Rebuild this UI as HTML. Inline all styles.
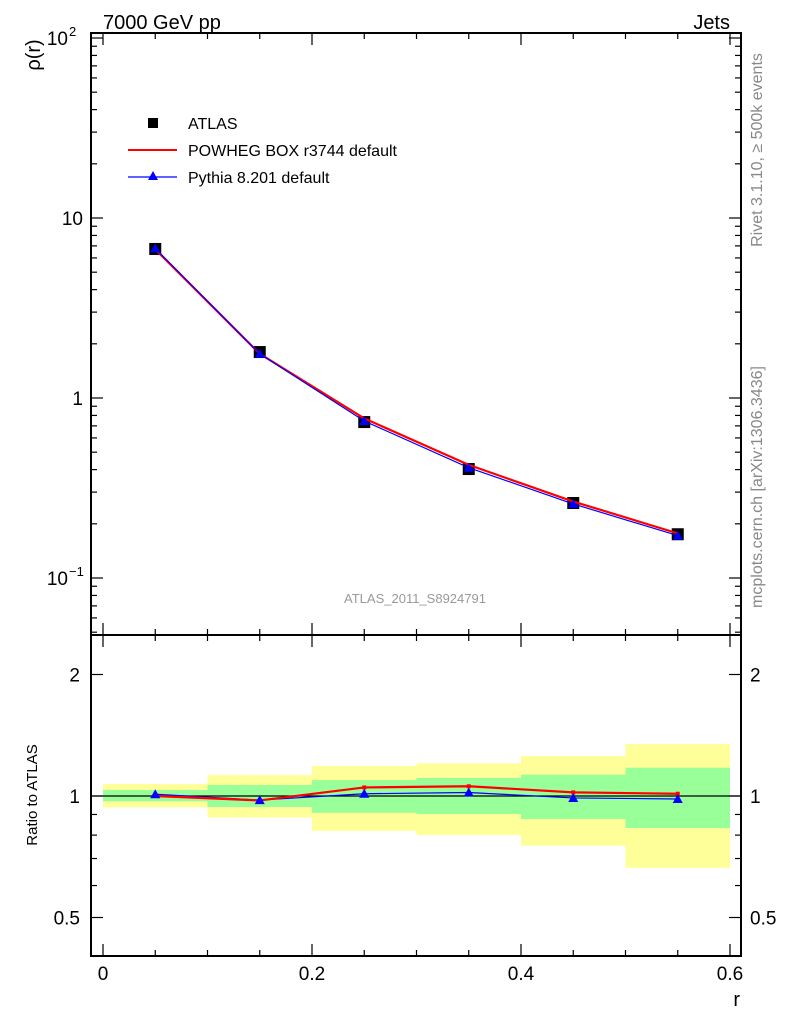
<!DOCTYPE html>
<html><head><meta charset="utf-8"><style>
body{margin:0;background:#fff}
svg text{font-family:"Liberation Sans",sans-serif}
</style></head><body>
<svg id="c" width="786" height="1024" xmlns="http://www.w3.org/2000/svg">
<g id="bands"></g>
<g id="axes"></g>
<g id="series"></g>
<text x="103" y="29" font-size="20">7000 GeV pp</text>
<text x="730" y="29" font-size="20" text-anchor="end">Jets</text>
<text transform="translate(40,55) rotate(-90)" font-size="20" text-anchor="middle">ρ(r)</text>
<text transform="translate(37,795) rotate(-90)" font-size="15" text-anchor="middle">Ratio to ATLAS</text>
<text x="740" y="1006" font-size="20" text-anchor="end">r</text>
<text x="415" y="603" font-size="13" fill="#999" text-anchor="middle">ATLAS_2011_S8924791</text>
<text transform="translate(762,150) rotate(-90)" font-size="16" fill="#888" text-anchor="middle">Rivet 3.1.10, ≥ 500k events</text>
<text transform="translate(762,487) rotate(-90)" font-size="16" fill="#888" text-anchor="middle">mcplots.cern.ch [arXiv:1306.3436]</text>
<g>
<rect x="148" y="118" width="10" height="10" fill="#000"/>
<text x="188" y="129" font-size="16">ATLAS</text>
<line x1="128" y1="150" x2="177" y2="150" stroke="#f00" stroke-width="2"/>
<text x="188" y="156" font-size="16">POWHEG BOX r3744 default</text>
<line x1="128" y1="177" x2="177" y2="177" stroke="#00f" stroke-width="1.2"/>
<polygon points="153,171 158,180 148,180" fill="#00f"/>
<text x="188" y="183" font-size="16">Pythia 8.201 default</text>
</g>
</svg>
<script>
const xCenters=[0.05,0.15,0.25,0.35,0.45,0.55];
const binEdges=[0,0.1,0.2,0.3,0.4,0.5,0.6];
const atlas=[6.73,1.80,0.735,0.403,0.261,0.175];
const powheg=[6.7,1.76,0.77,0.425,0.266,0.177];
const pythia=[6.78,1.76,0.745,0.41,0.258,0.172];
const ratioPowheg=[1.0,0.975,1.05,1.057,1.021,1.013];
const ratioPythia=[1.01,0.977,1.013,1.02,0.989,0.983];
const yellowHi=[1.071,1.127,1.187,1.205,1.256,1.345];
const yellowLo=[0.937,0.884,0.820,0.800,0.753,0.664];
const greenHi=[1.035,1.065,1.095,1.108,1.129,1.175];
const greenLo=[0.970,0.939,0.909,0.902,0.877,0.833];
const xTickLabels=["0","0.2","0.4","0.6"];
const ratioTickLabels=["0.5","1","2"];

const NS="http://www.w3.org/2000/svg";
const L=91,R=741,T=33,D=635,B=956;
const X=v=>103+v*(730-103)/0.6;
const Y=v=>398-Math.log10(v)*180;
const RY=v=>796-Math.log2(v)*121.5;
function mk(p,tag,a){const e=document.createElementNS(NS,tag);for(const k in a)e.setAttribute(k,a[k]);p.appendChild(e);return e;}
const ax=document.getElementById('axes'),bd=document.getElementById('bands'),se=document.getElementById('series');

for(let i=0;i<xCenters.length;i++){
 const x1=X(binEdges[i]),x2=X(binEdges[i+1]);
 let r=mk(bd,'rect',{x:x1,y:RY(yellowHi[i]),width:x2-x1,height:RY(yellowLo[i])-RY(yellowHi[i]),fill:'#ffff99'});
 
 
 r=mk(bd,'rect',{x:x1,y:RY(greenHi[i]),width:x2-x1,height:RY(greenLo[i])-RY(greenHi[i]),fill:'#99ff99'});
 
 
}
let f=mk(ax,'rect',{x:L,y:T,width:R-L,height:D-T,fill:'none',stroke:'#000','stroke-width':2});


f=mk(ax,'rect',{x:L,y:D,width:R-L,height:B-D,fill:'none',stroke:'#000','stroke-width':2});


mk(ax,'line',{x1:L,x2:R,y1:RY(1),y2:RY(1),stroke:'#000','stroke-width':1.2});
for(let k=0;k<=12;k++){const v=k*0.05,x=X(v),len=(k%4==0)?12:6;
 [[T,1],[D,-1],[D,1],[B,-1]].forEach(([y,s])=>mk(ax,'line',{x1:x,x2:x,y1:y,y2:y+s*len,stroke:'#000','stroke-width':1.2}));}
xTickLabels.forEach(t=>{const e=mk(ax,'text',{x:X(+t),y:980,'font-size':19,'text-anchor':'middle'});e.textContent=t;
 
 });
for(let d=-2;d<=2;d++)for(let m=1;m<=9;m++){const v=m*Math.pow(10,d),y=Y(v);if(y<T+1||y>D-1)continue;const len=m==1?12:6;
 mk(ax,'line',{x1:L,x2:L+len,y1:y,y2:y,stroke:'#000','stroke-width':1.2});mk(ax,'line',{x1:R,x2:R-len,y1:y,y2:y,stroke:'#000','stroke-width':1.2});}
[[1,"1"],[10,"10"]].forEach(([v,t])=>{const e=mk(ax,'text',{x:83,y:Y(v)+7,'font-size':19,'text-anchor':'end'});e.textContent=t;
 
 });
[[100,"10","2"],[0.1,"10","−1"]].forEach(([v,b,p])=>{const e=mk(ax,'text',{x:68,y:Y(v)+7,'font-size':19,'text-anchor':'end'});e.textContent=b;
 
 
 const s=mk(ax,'text',{x:69,y:Y(v)-2,'font-size':13});s.textContent=p;});
for(let d=-1;d<=0;d++)for(let m=1;m<=9;m++){const v=m*Math.pow(10,d),y=RY(v);if(y<D+1||y>B-1)continue;const len=(v==0.5||v==1||v==2)?12:6;
 mk(ax,'line',{x1:L,x2:L+len,y1:y,y2:y,stroke:'#000','stroke-width':1.2});mk(ax,'line',{x1:R,x2:R-len,y1:y,y2:y,stroke:'#000','stroke-width':1.2});}
ratioTickLabels.forEach(t=>{const y=RY(+t)+7;
 let e=mk(ax,'text',{x:80,y:y,'font-size':19,'text-anchor':'end'});e.textContent=t;
 
 
 e=mk(ax,'text',{x:750,y:y,'font-size':19});e.textContent=t;
 
 });
function line(vals,fy,col,w,name){const p=mk(se,'polyline',{points:vals.map((v,i)=>X(xCenters[i])+','+fy(v)).join(' '),fill:'none',stroke:col,'stroke-width':w});
 
 }
atlas.forEach((v,i)=>{const r=mk(se,'rect',{x:X(xCenters[i])-6,y:Y(v)-6,width:12,height:12,fill:'#000'});
 
 });
line(powheg,Y,'#f00',2.2,'powheg-line');
line(pythia,Y,'#00f',1.2,'pythia-line');
function tri(vals,fy,name){vals.forEach((v,i)=>{const x=X(xCenters[i]),y=fy(v);
 const t=mk(se,'polygon',{points:`${x},${y-5} ${x+5},${y+4} ${x-5},${y+4}`,fill:'#00f'});
 
 });}
tri(pythia,Y,'pythia-point');
line(ratioPythia,RY,'#00f',1.2,'pythia-ratio-line');
line(ratioPowheg,RY,'#f00',2.2,'powheg-ratio-line');
ratioPowheg.forEach((v,i)=>{mk(se,'rect',{x:X(xCenters[i])-2,y:RY(v)-2,width:4,height:4,fill:'#f00'});});
tri(ratioPythia,RY,'pythia-ratio-point');
</script>
</body></html>
